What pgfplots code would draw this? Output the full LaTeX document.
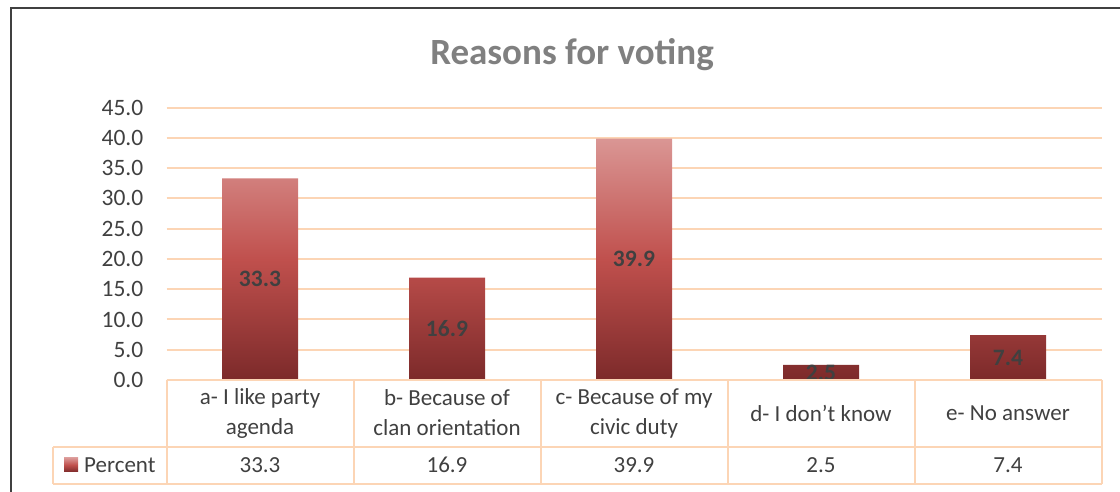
\documentclass[border=0pt]{standalone}
\usepackage{fontspec}
\setmainfont{Carlito}
\usepackage{pgfplots}
\pgfplotsset{compat=1.18}
\definecolor{gridc}{RGB}{252,213,181}
\definecolor{txt}{RGB}{64,64,64}
\definecolor{bartop}{RGB}{218,150,148}
\definecolor{barmid}{RGB}{192,80,77}
\definecolor{barbot}{RGB}{124,42,42}
\definecolor{ttl}{RGB}{128,128,128}
\pgfdeclareverticalshading{barshade}{100bp}{
  color(0bp)=(barbot); color(25bp)=(barbot); color(50bp)=(barmid); color(75bp)=(bartop); color(100bp)=(bartop)}
\begin{document}
\begin{tikzpicture}[x=1pt,y=1pt]
\begin{axis}[
 at={(166.5pt,112pt)}, anchor=south west, scale only axis,
 width=935pt, height=272.3pt,
 xmin=-0.5, xmax=4.5, ymin=0, ymax=45,
 ytick={0,5,...,45},
 xtick={0,1,2,3,4},
 xticklabels={a- I like party\\agenda, b- Because of\\clan orientation, c- Because of my\\civic duty, d- I don’t know, e- No answer},
 xticklabel style={align=center, anchor=center, inner sep=0pt, yshift=-33pt, font=\fontsize{23}{30}\selectfont, text=txt},
 yticklabel style={/pgf/number format/.cd, fixed, fixed zerofill, precision=1, /tikz/.cd, font=\fontsize{23.5}{27}\selectfont, text=txt, inner sep=0pt, xshift=-23pt},
 /pgf/number format/assume math mode=true,
 axis line style={draw=none}, major tick length=0pt,
 ymajorgrids, major grid style={draw=gridc, line width=2pt},
 clip=false,
]
\addplot[ybar, bar width=76pt, bar shift=0pt, draw=none, shading=barshade,
  visualization depends on={rawy \as \rawy},
  nodes near coords={\pgfmathprintnumber[fixed,fixed zerofill,precision=1]{\pgfplotspointmeta}},
  every node near coord/.style={anchor=center, text=txt, font=\bfseries\fontsize{23.5}{27}\selectfont, shift={(axis direction cs:0,-\rawy/2)}},
] coordinates {(0,33.3) (1,16.9) (2,39.9) (3,2.5) (4,7.4)};
\end{axis}
% data table
\begin{scope}[gridc, line width=2pt]
\draw (166.5,112) -- (1102,112);
\draw (53,45) -- (1102,45);
\draw (53,8) -- (1102,8);
\foreach \x in {166.5,353.5,540.5,727.5,914.5,1101.5} \draw (\x,112) -- (\x,8);
\draw (53,45) -- (53,8);
\end{scope}
\shade[shading=barshade] (64,20) rectangle (78,34);
\node[anchor=west, inner sep=0pt, text=txt, font=\fontsize{23}{27}\selectfont] at (84,27) {Percent};
\foreach \x/\v in {260/33.3, 447/16.9, 634/39.9, 821/2.5, 1008/7.4}
  \node[inner sep=0pt, text=txt, font=\fontsize{23}{27}\selectfont] at (\x,27) {\v};
% title
\node[text=ttl, font=\bfseries\fontsize{37}{44}\selectfont] at (572,437) {Reasons for voting};
% frame
\draw[line width=2pt, color=txt] (11,0) -- (11,484) -- (1120,484);
\pgfresetboundingbox
\useasboundingbox (0,0) rectangle (1120,492);
\end{tikzpicture}
\end{document}
